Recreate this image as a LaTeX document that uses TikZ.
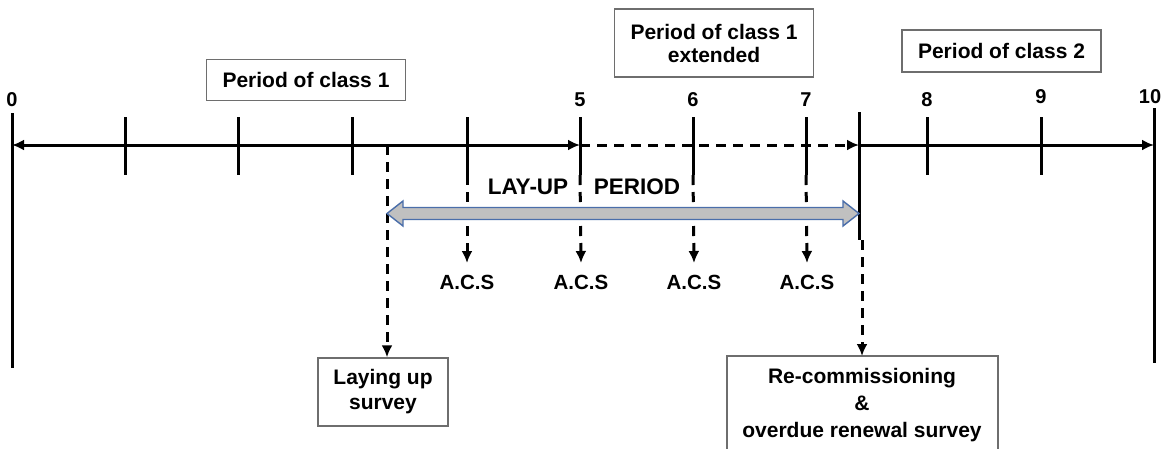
\documentclass[tikz,border=0pt]{standalone}
\usepackage{fontspec}
\setmainfont{Liberation Sans}
\usetikzlibrary{arrows.meta}
\definecolor{boxgray}{RGB}{110,110,110}
\definecolor{shaftfill}{RGB}{192,192,192}
\definecolor{shaftblue}{RGB}{74,110,170}
\begin{document}
\begin{tikzpicture}[x=1pt,y=-1pt,
  ln/.style={line width=3pt},
  dl/.style={line width=3pt, dash pattern=on 10pt off 7pt},
  tip/.style={-{Latex[length=12pt,width=11pt]}},
  box/.style={draw=boxgray, line width=1.4pt, inner sep=0pt, align=center,
              font=\fontsize{21}{24}\selectfont\bfseries},
  txt/.style={inner sep=0pt, align=center, font=\fontsize{21}{25}\selectfont\bfseries},
  num/.style={font=\fontsize{20}{22}\selectfont\bfseries, inner sep=0pt},
  acs/.style={font=\fontsize{20.5}{22}\selectfont\bfseries, inner sep=0pt},
  lay/.style={font=\fontsize{22.5}{24}\selectfont\bfseries, inner sep=0pt},
]
\useasboundingbox (0,0) rectangle (1169,448);

% axis points
\coordinate (a0) at (12,145);
\coordinate (a5) at (580,145);
\coordinate (aR) at (859,145);
\coordinate (a10) at (1154,145);

% main axis
\draw[ln, {Latex[length=12pt,width=11pt]}-{Latex[length=12pt,width=11pt]}] (a0) -- (a5);
\draw[dl, tip] (a5) -- (aR);
\draw[ln, tip] (aR) -- (a10);

% long verticals
\coordinate (v0t) at (12,113);   \coordinate (v0b) at (12,368);
\coordinate (v10t) at (1154,108); \coordinate (v10b) at (1154,363);
\draw[ln] (v0t) -- (v0b);
\draw[ln] (v10t) -- (v10b);
\coordinate (vRt) at (859,112);  \coordinate (vRb) at (859,240);
\draw[ln] (vRt) -- (vRb);

% ticks
\foreach \n/\x in {1/125,2/238,3/352,4/467,5/580,6/693,7/806,8/927,9/1041}{
  \coordinate (k\n t) at (\x,117);
  \coordinate (k\n b) at (\x,175);
  \draw[ln] (k\n t) -- (k\n b);
}

% numbers
\node[num] (n0) at (12,100) {0};
\node[num] (n5) at (580,100) {5};
\node[num] (n6) at (693,100) {6};
\node[num] (n7) at (806,100) {7};
\node[num] (n8) at (927,100) {8};
\node[num] (n9) at (1041,97) {9};
\node[num] (n10) at (1150,97) {10};

% period boxes
\node[box, minimum width=199pt, minimum height=41pt] (p1) at (306,80) {Period of class 1};
\node[box, minimum width=199pt, minimum height=68pt, font=\fontsize{21}{23}\selectfont\bfseries] (p1e) at (714,43) {Period of class 1\\extended};
\node[box, minimum width=199pt, minimum height=42pt] (p2) at (1001.5,51) {Period of class 2};

% lay-up period label
\node[lay] (lu1) at (528,187) {LAY-UP};
\node[lay] (lu2) at (637,187) {PERIOD};

% A.C.S
\foreach \n/\x in {4/467,5/581,6/694,7/807}{
  \node[acs] (acs\n) at (\x,282) {A.C.S};
  \coordinate (e\n) at (\x,263);
  \draw[dl, tip] (k\n b) -- (e\n);
}

% laying up survey
\node[box, minimum width=130pt, minimum height=68pt, font=\fontsize{21}{25}\selectfont\bfseries] (lsv) at (383,392) {Laying up\\survey};
\coordinate (lt) at (387,145);
\draw[dl, tip] (lt) -- (lsv.north -| lt);

% recommissioning
\node[txt, font=\fontsize{21}{27}\selectfont\bfseries] (rc) at (862,405) {Re-commissioning\\\&\\overdue renewal survey};
\coordinate (rcl) at (727,356); \coordinate (rcr) at (998,356);
\draw[draw=boxgray, line width=1.4pt] (727,449) -- (rcl) -- (rcr) -- (998,449);
\coordinate (rt) at (862,240);
\coordinate (rb) at (862,356);
\draw[dl, tip] (rt) -- (rb);

% lay-up period block arrow
\draw[draw=shaftblue, fill=shaftfill, line width=1.4pt]
  (387,213.5) -- (403,201) -- (403,207.5) -- (843,207.5) -- (843,201) -- (859,213.5)
  -- (843,226) -- (843,219.5) -- (403,219.5) -- (403,226) -- cycle;
\end{tikzpicture}
\end{document}
